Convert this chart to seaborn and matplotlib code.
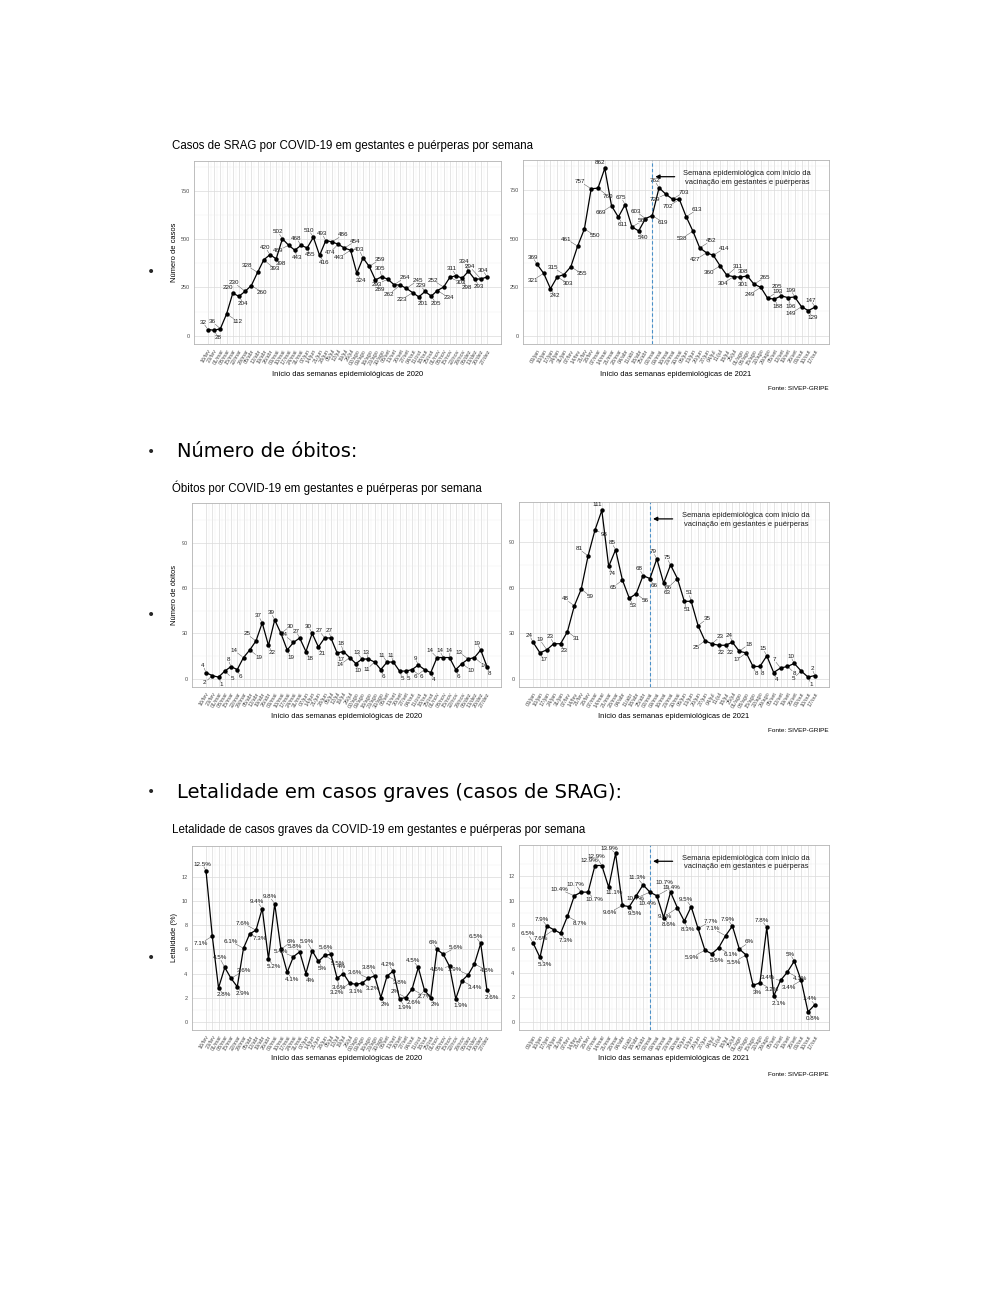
import numpy as np
import pandas as pd
import matplotlib
matplotlib.use("Agg")
import matplotlib.pyplot as plt
import seaborn as sns

# ---------------- data ----------------
semanas_2020 = ["16/fev", "23/fev", "01/mar", "08/mar", "15/mar", "22/mar", "29/mar",
                "05/abr", "12/abr", "19/abr", "26/abr", "03/mai", "10/mai", "17/mai",
                "24/mai", "31/mai", "07/jun", "14/jun", "21/jun", "28/jun", "05/jul",
                "12/jul", "19/jul", "26/jul", "02/ago", "09/ago", "16/ago", "23/ago",
                "30/ago", "06/set", "13/set", "20/set", "27/set", "04/out", "11/out",
                "18/out", "25/out", "01/nov", "08/nov", "15/nov", "22/nov", "29/nov",
                "06/dez", "13/dez", "20/dez", "27/dez"]
semanas_2021 = ["03/jan", "10/jan", "17/jan", "24/jan", "31/jan", "07/fev", "14/fev",
                "21/fev", "28/fev", "07/mar", "14/mar", "21/mar", "28/mar", "04/abr",
                "11/abr", "18/abr", "25/abr", "02/mai", "09/mai", "16/mai", "23/mai",
                "30/mai", "06/jun", "13/jun", "20/jun", "27/jun", "04/jul", "11/jul",
                "18/jul", "25/jul", "01/ago", "08/ago", "15/ago", "22/ago", "29/ago",
                "05/set", "12/set", "19/set", "26/set", "03/out", "10/out", "17/out"]

casos_2020 = [32, 28, 36, 112, 220, 204, 230, 260, 328, 393, 420, 398, 502, 469, 443,
              468, 455, 510, 416, 493, 486, 474, 454, 443, 324, 403, 359, 289, 305, 293,
              264, 262, 245, 223, 201, 229, 205, 234, 252, 302, 311, 298, 334, 293, 294, 304]
casos_2021 = [369, 321, 242, 303, 315, 355, 461, 550, 757, 760, 862, 669, 611, 675, 560,
              540, 603, 619, 762, 729, 703, 702, 613, 538, 452, 427, 414, 360, 311, 304,
              301, 308, 265, 249, 193, 188, 205, 196, 199, 149, 129, 147]

obitos_2020 = [4, 2, 1, 5, 8, 6, 14, 19, 25, 37, 22, 39, 30, 19, 24, 27, 18, 30, 21, 27,
               27, 17, 18, 14, 10, 13, 13, 11, 6, 11, 11, 5, 5, 6, 9, 6, 4, 14, 14, 14,
               6, 10, 13, 14, 19, 8]
obitos_2021 = [24, 17, 19, 23, 23, 31, 48, 59, 81, 98, 111, 74, 85, 65, 53, 56, 68, 66,
               79, 63, 75, 66, 51, 51, 35, 25, 23, 22, 22, 24, 18, 17, 8, 8, 15, 4, 7, 8,
               10, 5, 1, 2]

letalidade_2020 = [12.5, 7.1, 2.8, 4.5, 3.6, 2.9, 6.1, 7.3, 7.6, 9.4, 5.2, 9.8, 6.0, 4.1,
                   5.4, 5.8, 4.0, 5.9, 5.0, 5.5, 5.6, 3.6, 4.0, 3.2, 3.1, 3.2, 3.6, 3.8,
                   2.0, 3.8, 4.2, 1.9, 2.0, 2.7, 4.5, 2.6, 2.0, 6.0, 5.6, 4.6, 1.9, 3.4,
                   3.9, 4.8, 6.5, 2.6]
letalidade_2021 = [6.5, 5.3, 7.9, 7.6, 7.3, 8.7, 10.4, 10.7, 10.7, 12.9, 12.9, 11.1, 13.9,
                   9.6, 9.5, 10.4, 11.3, 10.7, 10.4, 8.6, 10.7, 9.4, 8.3, 9.5, 7.7, 5.9,
                   5.6, 6.1, 7.1, 7.9, 6.0, 5.5, 3.0, 3.2, 7.8, 2.1, 3.4, 4.1, 5.0, 3.4,
                   0.8, 1.4]

semana_inicio_vacinacao = "02/mai"

titulo_casos = "Casos de SRAG por COVID-19 em gestantes e puérperas por semana"
titulo_obitos = "Óbitos por COVID-19 em gestantes e puérperas por semana"
titulo_letalidade = "Letalidade de casos graves da COVID-19 em gestantes e puérperas por semana"
eixo_x_2020 = "Início das semanas epidemiológicas de 2020"
eixo_x_2021 = "Início das semanas epidemiológicas de 2021"
eixo_y_casos = "Número de casos"
eixo_y_obitos = "Número de óbitos"
eixo_y_letalidade = "Letalidade (%)"
texto_vacinacao = "Semana epidemiológica com início da\nvacinação em gestantes e puérperas"
texto_fonte = "Fonte: SIVEP-GRIPE"
topico_obitos = "Número de óbitos:"
topico_letalidade = "Letalidade em casos graves (casos de SRAG):"

# ---------------- style ----------------
sns.set_theme(style="white")
plt.rcParams['font.family'] = ['Liberation Sans', 'DejaVu Sans']

W, H = 1000, 1294
fig = plt.figure(figsize=(W / 100, H / 100), dpi=100)
fig.patch.set_facecolor('white')
renderer = fig.canvas.get_renderer()

FS_TICK = 4.0
FS_LAB = 4.5
FS_AXT = 5.4
FS_TIT = 8.3


def fx(x):
    return x / W


def fy(y):
    return 1 - y / H


def fmt_int(v):
    return str(v)


def fmt_pct(v):
    return f"{v:.1f}".rstrip('0').rstrip('.') + '%'


def repel_labels(ax, xs, ys, texts):
    n = len(xs)
    pts = ax.transData.transform(np.column_stack([xs, ys]).astype(float))
    arts = [ax.text(0, 0, t, fontsize=FS_LAB, ha='center', va='center',
                    color='#1a1a1a', zorder=6) for t in texts]
    wh = np.array([[a.get_window_extent(renderer).width,
                    a.get_window_extent(renderer).height] for a in arts])
    w = wh[:, 0] + 1.5
    h = wh[:, 1] * 0.8
    gap = 5.0
    init = np.zeros((n, 2))
    for i in range(n):
        p = ys[i - 1] if i > 0 else ys[i]
        q = ys[i + 1] if i < n - 1 else ys[i]
        y = ys[i]
        if y >= p and y >= q:
            d = (-0.4, 1)
        elif y <= p and y <= q:
            d = (0.4, -1)
        elif p < y < q:
            d = (-1, 1) if i % 2 == 0 else (1, -1)
        else:
            d = (1, 1) if i % 2 == 0 else (-1, -1)
        init[i] = pts[i] + np.array([d[0] * (w[i] / 2 + gap), d[1] * (h[i] / 2 + gap)])
    # obstacles: points and samples along the line
    obs = [pts]
    for t in (0.17, 0.33, 0.5, 0.67, 0.83):
        obs.append(pts[:-1] * (1 - t) + pts[1:] * t)
    obs = np.vstack(obs)
    rad = 2.5
    bb = ax.bbox
    pos = init.copy()
    idx = np.arange(n)
    tie = np.sign(idx[None, :] - idx[:, None]).astype(float)
    pad = 1.0
    for it in range(600):
        d = pos[None, :, :] - pos[:, None, :]
        ox = (w[:, None] + w[None, :]) / 2 + pad - np.abs(d[..., 0])
        oy = (h[:, None] + h[None, :]) / 2 + pad - np.abs(d[..., 1])
        ov = (ox > 0) & (oy > 0)
        np.fill_diagonal(ov, False)
        sx = np.sign(d[..., 0]); sx = np.where(sx == 0, tie, sx)
        sy = np.sign(d[..., 1]); sy = np.where(sy == 0, tie, sy)
        ux = ov & (ox < oy)
        uy = ov & (ox >= oy)
        disp = np.zeros_like(pos)
        disp[:, 0] -= np.where(ux, sx * ox, 0).sum(1) * 0.5
        disp[:, 1] -= np.where(uy, sy * oy, 0).sum(1) * 0.5
        e = pos[:, None, :] - obs[None, :, :]
        ox2 = w[:, None] / 2 + rad - np.abs(e[..., 0])
        oy2 = h[:, None] / 2 + rad - np.abs(e[..., 1])
        ov2 = (ox2 > 0) & (oy2 > 0)
        sx2 = np.sign(e[..., 0]); sx2[sx2 == 0] = 1
        sy2 = np.sign(e[..., 1]); sy2[sy2 == 0] = 1
        ux2 = ov2 & (ox2 < oy2)
        uy2 = ov2 & (ox2 >= oy2)
        px = np.where(ux2, sx2 * ox2, 0)
        py = np.where(uy2, sy2 * oy2, 0)
        disp[:, 0] += px.sum(1) / np.maximum(1, ux2.sum(1))
        disp[:, 1] += py.sum(1) / np.maximum(1, uy2.sum(1))
        disp += 0.02 * (init - pos)
        pos += disp * 0.5
        pos[:, 0] = np.clip(pos[:, 0], bb.x0 + w / 2 + 1, bb.x1 - w / 2 - 1)
        pos[:, 1] = np.clip(pos[:, 1], bb.y0 + h / 2 + 1, bb.y1 - h / 2 - 1)
    inv = ax.transData.inverted()
    for i, a in enumerate(arts):
        a.set_position(inv.transform(pos[i]))
        v = pos[i] - pts[i]
        if abs(v[0]) < 1e-9 and abs(v[1]) < 1e-9:
            continue
        sxs = (w[i] / 2 + 0.5) / abs(v[0]) if abs(v[0]) > 1e-9 else np.inf
        sys_ = (h[i] / 2 + 0.5) / abs(v[1]) if abs(v[1]) > 1e-9 else np.inf
        s = min(sxs, sys_)
        if s >= 1:
            continue
        end = pos[i] - v * s
        seglen = np.hypot(*(end - pts[i]))
        if seglen > 4.0:
            start = pts[i] + (end - pts[i]) / seglen * 1.5
            seg = inv.transform(np.vstack([start, end]))
            ax.plot(seg[:, 0], seg[:, 1], color='#555555', lw=0.35, zorder=3)


def painel(box, semanas, valores, textos, ylim, yticks, yminor, xtitle, xlab_y,
           ytitle=None, vac=None):
    x0, y0, x1, y1 = box
    ax = fig.add_axes([fx(x0), fy(y1), (x1 - x0) / W, (y1 - y0) / H])
    n = len(semanas)
    df = pd.DataFrame({'semana': np.arange(n), 'valor': valores})
    ax.set_xlim(-0.05 * (n - 1), (n - 1) * 1.05)
    ax.set_ylim(*ylim)
    ax.set_xticks(np.arange(n))
    ax.set_xticklabels(semanas, rotation=60, ha='right', rotation_mode='anchor')
    ax.set_xticks(np.arange(n - 1) + 0.5, minor=True)
    ax.set_yticks(yticks)
    ax.set_yticks(yminor, minor=True)
    ax.grid(which='major', color='#DADADA', lw=0.5)
    ax.grid(which='minor', color='#ECECEC', lw=0.3)
    ax.set_axisbelow(True)
    for s in ax.spines.values():
        s.set_color('#B3B3B3')
        s.set_linewidth(0.6)
    ax.tick_params(which='major', length=2, width=0.4, color='#B3B3B3',
                   labelsize=FS_TICK, labelcolor='#4D4D4D', pad=1.2)
    ax.tick_params(which='minor', length=0)
    if vac is not None:
        iv = semanas.index(semana_inicio_vacinacao)
        ax.axvline(iv, color='#4A90C8', lw=0.8, ls=(0, (3, 2)), zorder=2)
        seta_y, texto_y = vac
        ax.annotate('', xy=(iv + 0.45, seta_y), xytext=(iv + 3.3, seta_y),
                    arrowprops=dict(arrowstyle='-|>', color='black', lw=0.9,
                                    mutation_scale=6, shrinkA=0, shrinkB=0), zorder=6)
        ax.text(31.0, texto_y, texto_vacinacao, ha='center', va='center',
                fontsize=FS_AXT, color='#1a1a1a', linespacing=1.35, zorder=6)
    sns.lineplot(data=df, x='semana', y='valor', ax=ax, color='black', linewidth=0.9,
                 marker='o', markersize=3.2, markeredgewidth=0, zorder=4)
    ax.set_xlim(-0.05 * (n - 1), (n - 1) * 1.05)
    ax.set_ylim(*ylim)
    ax.set_xlabel(xtitle, fontsize=FS_AXT, color='black')
    ax.xaxis.label.set_va('center')
    ax.xaxis.set_label_coords(0.5, -(xlab_y - y1) / (y1 - y0))
    if ytitle:
        ax.set_ylabel(ytitle, fontsize=FS_AXT, color='black')
        ax.yaxis.label.set_va('center')
        ax.yaxis.set_label_coords(-(x0 - 175) / (x1 - x0), 0.5)
    else:
        ax.set_ylabel('')
    repel_labels(ax, np.arange(n), valores, textos)
    return ax


linhas = [
    dict(titulo=titulo_casos, ty=146, ytitle=eixo_y_casos,
         d20=casos_2020, d21=casos_2021, fmt=fmt_int,
         ylim=(-43.1, 905.1), yticks=[0, 250, 500, 750], yminor=[125, 375, 625, 875],
         esq=(194, 161, 501, 344), dir=(523, 160, 829, 344),
         xlab_y=374, fonte_y=389, vac=(819, 812), bullet_y=272),
    dict(titulo=titulo_obitos, ty=488, ytitle=eixo_y_obitos,
         d20=obitos_2020, d21=obitos_2021, fmt=fmt_int,
         ylim=(-5.55, 116.55), yticks=[0, 30, 60, 90], yminor=[15, 45, 75, 105],
         esq=(192, 503, 501, 687), dir=(519, 502, 829, 687),
         xlab_y=717, fonte_y=731, vac=(105.4, 104.6), bullet_y=615),
    dict(titulo=titulo_letalidade, ty=830, ytitle=eixo_y_letalidade,
         d20=letalidade_2020, d21=letalidade_2021, fmt=fmt_pct,
         ylim=(-0.695, 14.595), yticks=[0, 2, 4, 6, 8, 10, 12],
         yminor=[1, 3, 5, 7, 9, 11, 13],
         esq=(192, 846, 501, 1030), dir=(519, 845, 829, 1030),
         xlab_y=1059, fonte_y=1074, vac=(13.25, 13.14), bullet_y=958),
]

for L in linhas:
    fig.text(fx(172), fy(L['ty']), L['titulo'], fontsize=FS_TIT, ha='left', va='center',
             color='black')
    painel(L['esq'], semanas_2020, L['d20'], [L['fmt'](v) for v in L['d20']],
           L['ylim'], L['yticks'], L['yminor'], eixo_x_2020, L['xlab_y'],
           ytitle=L['ytitle'])
    painel(L['dir'], semanas_2021, L['d21'], [L['fmt'](v) for v in L['d21']],
           L['ylim'], L['yticks'], L['yminor'], eixo_x_2021, L['xlab_y'],
           vac=L['vac'])
    fig.text(fx(829), fy(L['fonte_y']), texto_fonte, fontsize=4.6, ha='right',
             va='center', color='black')
    fig.text(fx(151), fy(L['bullet_y']), '•', fontsize=10, ha='center', va='center',
             family='DejaVu Sans')

# document headings
fig.text(fx(151), fy(452), '•', fontsize=10, ha='center', va='center', family='DejaVu Sans')
fig.text(fx(177), fy(452), topico_obitos, fontsize=14, ha='left', va='center',
         family='DejaVu Sans', color='black')
fig.text(fx(151), fy(792), '•', fontsize=10, ha='center', va='center', family='DejaVu Sans')
fig.text(fx(177), fy(792), topico_letalidade, fontsize=14, ha='left', va='center',
         family='DejaVu Sans', color='black')

fig.savefig('out.png', dpi=100, facecolor='white')
